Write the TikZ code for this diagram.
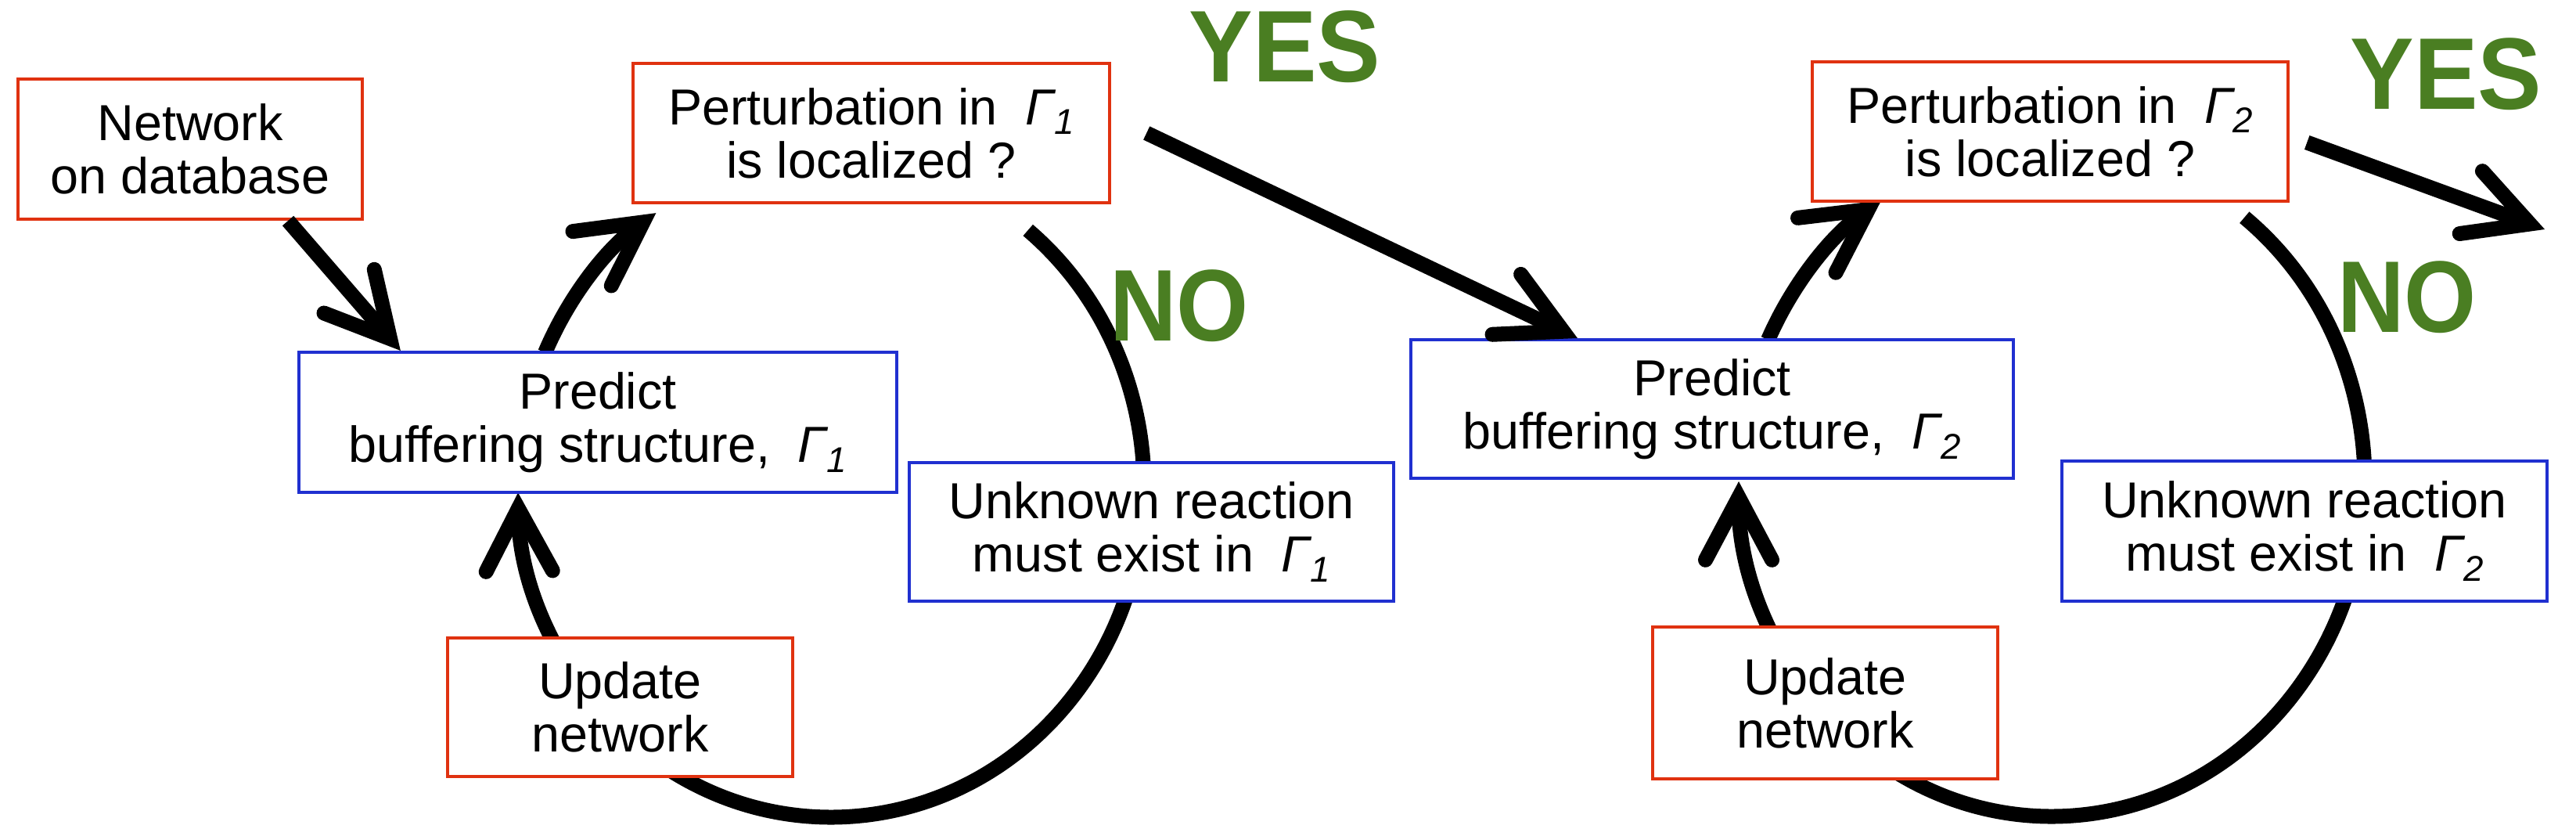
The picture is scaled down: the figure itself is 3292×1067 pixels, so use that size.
\documentclass[tikz,border=0pt]{standalone}
\usepackage{fontspec}
\setmainfont{Liberation Sans}
\usetikzlibrary{arrows.meta}

\definecolor{boxred}{RGB}{224,50,16}
\definecolor{boxblue}{RGB}{32,48,208}
\definecolor{yesgreen}{RGB}{74,126,34}

% Gamma with an italic index
\newcommand{\gam}[1]{\hspace{0.55em}{\itshape Γ}\raisebox{-0.2em}{\fontsize{13}{13}\selectfont\itshape #1}}

\begin{document}
\begin{tikzpicture}[
  x=0.01cm, y=0.01cm,
  redbox/.style={rectangle, draw=boxred, line width=0.04cm, fill=white, align=center,
    font=\fontsize{18.4}{19.4}\selectfont},
  bluebox/.style={redbox, draw=boxblue},
  answer/.style={inner sep=0pt, text=yesgreen, font=\fontsize{37}{37}\selectfont\bfseries},
  flow/.style={line width=0.19cm,
    -{Straight Barb[length=0.8cm, width=0.85cm, line cap=round, line join=miter]}}
]
  \useasboundingbox (0,0) rectangle (3292,-1067);

  % centres of the two loops
  \coordinate (cL) at (1062,-622);
  \coordinate (cR) at (2622,-615);

  % loops (behind the boxes)
  \draw[flow] ([shift={(156:400 and 422)}]cL) arc[start angle=156, end angle=124, x radius=400, y radius=422];
  \draw[flow] ([shift={(51:400 and 422)}]cL) arc[start angle=51, end angle=-179, x radius=400, y radius=422];
  \draw[flow] ([shift={(155:400 and 428)}]cR) arc[start angle=155, end angle=123, x radius=400, y radius=428];
  \draw[flow] ([shift={(52:400 and 428)}]cR) arc[start angle=52, end angle=-180, x radius=400, y radius=428];

  % boxes
  \node[redbox, minimum width=4.40cm, minimum height=1.79cm] (net) at (243,-190.5) {Network\\on database};
  \node[redbox, minimum width=6.09cm, minimum height=1.78cm] (pertA) at (1113.5,-170) {Perturbation in\gam{1}\\is localized ?};
  \node[bluebox, minimum width=7.64cm, minimum height=1.79cm] (predA) at (764,-539.5) {Predict\\buffering structure,\gam{1}};
  \node[bluebox, minimum width=6.19cm, minimum height=1.77cm] (unkA) at (1471.5,-679.5) {Unknown reaction\\must exist in\gam{1}};
  \node[redbox, minimum width=4.41cm, minimum height=1.77cm] (updA) at (792.5,-903.5) {Update\\network};

  \node[redbox, minimum width=6.08cm, minimum height=1.78cm] (pertB) at (2620,-168) {Perturbation in\gam{2}\\is localized ?};
  \node[bluebox, minimum width=7.70cm, minimum height=1.77cm] (predB) at (2188,-522.5) {Predict\\buffering structure,\gam{2}};
  \node[bluebox, minimum width=6.20cm, minimum height=1.79cm] (unkB) at (2945,-678.5) {Unknown reaction\\must exist in\gam{2}};
  \node[redbox, minimum width=4.41cm, minimum height=1.94cm] (updB) at (2332.5,-898) {Update\\network};

  % straight arrows
  \coordinate (out) at (3252,-293);
  \draw[flow] ([xshift=1.25cm]net.south) -- ([xshift=-2.52cm]predA.north);
  \draw[flow] ([xshift=0.45cm]pertA.east) -- ([xshift=2.15cm]predB.north west);
  \draw[flow] ([xshift=0.22cm, yshift=-0.14cm]pertB.east) -- (out);

  % answers
  \node[answer] (yesA) at (1642,-60) {\scalebox{0.94}[1]{YES}};
  \node[answer] (noA) at (1507,-391) {\scalebox{0.91}[1]{NO}};
  \node[answer] (yesB) at (3126,-95) {\scalebox{0.94}[1]{YES}};
  \node[answer] (noB) at (3076,-380) {\scalebox{0.91}[1]{NO}};
\end{tikzpicture}
\end{document}
